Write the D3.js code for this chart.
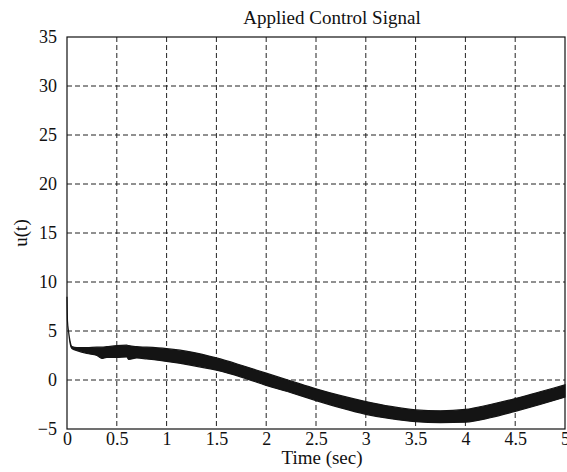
<!DOCTYPE html>
<html>
<head>
<meta charset="utf-8">
<title>Applied Control Signal</title>
<script src="https://cdn.jsdelivr.net/npm/d3@7"></script>
<style>
  body { margin: 0; background: #fff; }
  text { font-family: "Liberation Serif", "Times New Roman", serif; fill: #111; }
</style>
</head>
<body>
<svg id="chart" width="567" height="472"></svg>
<script>
// values (u(t) band: upper and lower envelope)
var times = [0, 0.005, 0.015, 0.03, 0.05, 0.1, 0.2, 0.3, 0.35, 0.4, 0.5, 0.6, 0.62, 0.7, 0.8, 1.0,
             1.25, 1.5, 1.75, 2.0, 2.25, 2.5, 2.75, 3.0, 3.25, 3.5, 3.75, 4.0, 4.25, 4.5, 4.75, 5.0];
var upper = [8.5, 6.0, 5.0, 4.0, 3.4, 3.3, 3.3, 3.35, 3.35, 3.4, 3.5, 3.55, 3.5, 3.4, 3.35, 3.2,
             2.85, 2.25, 1.5, 0.7, -0.1, -0.9, -1.6, -2.2, -2.7, -3.05, -3.15, -3.0, -2.5, -1.9, -1.2, -0.5];
var lower = [8.5, 6.0, 5.0, 3.8, 3.2, 3.0, 2.7, 2.5, 2.2, 2.3, 2.3, 2.35, 2.1, 2.25, 2.15, 1.9,
             1.5, 1.0, 0.3, -0.55, -1.3, -2.1, -2.85, -3.5, -3.95, -4.25, -4.35, -4.3, -3.85, -3.2, -2.5, -1.75];
var xTicks = [0, 0.5, 1, 1.5, 2, 2.5, 3, 3.5, 4, 4.5, 5];
var yTicks = [-5, 0, 5, 10, 15, 20, 25, 30, 35];

var plotLeft = 67, plotRight = 565, plotTop = 37, plotBottom = 429;
var svg = d3.select("#chart");

var x = d3.scaleLinear().domain([0, 5]).range([plotLeft, plotRight]);
var y = d3.scaleLinear().domain([-5, 35]).range([plotBottom, plotTop]);

// grid
svg.append("g").selectAll("line")
  .data(xTicks.slice(1, -1)).enter().append("line")
  .attr("x1", function(d){ return x(d); }).attr("x2", function(d){ return x(d); })
  .attr("y1", plotTop).attr("y2", plotBottom)
  .attr("stroke", "#222").attr("stroke-width", 1).attr("stroke-dasharray", "5,3");
svg.append("g").selectAll("line")
  .data(yTicks.slice(1, -1)).enter().append("line")
  .attr("y1", function(d){ return y(d); }).attr("y2", function(d){ return y(d); })
  .attr("x1", plotLeft).attr("x2", plotRight)
  .attr("stroke", "#222").attr("stroke-width", 1).attr("stroke-dasharray", "5,3");

// signal band
var pts = times.map(function(t, i){ return {t: t, hi: upper[i], lo: lower[i]}; });
var area = d3.area()
  .curve(d3.curveMonotoneX)
  .x(function(d){ return x(d.t); })
  .y0(function(d){ return y(d.lo); })
  .y1(function(d){ return y(d.hi); });
svg.append("path").datum(pts)
  .attr("d", area)
  .attr("fill", "#141414").attr("stroke", "#141414").attr("stroke-width", 1.2);

// axes
var xAxis = d3.axisBottom(x).tickValues(xTicks).tickSize(0).tickPadding(3)
  .tickFormat(function(d){ return d3.format("")(d); });
var yAxis = d3.axisLeft(y).tickValues(yTicks).tickSize(0).tickPadding(10);
var gx = svg.append("g").attr("transform", "translate(0," + plotBottom + ")").call(xAxis);
var gy = svg.append("g").attr("transform", "translate(" + plotLeft + ",0)").call(yAxis);
[gx, gy].forEach(function(g){
  g.attr("font-family", "Liberation Serif").attr("font-size", 18);
  g.select(".domain").remove();
  g.selectAll("text").attr("fill", "#111");
});

// frame
svg.append("rect").attr("x", plotLeft).attr("y", plotTop)
  .attr("width", plotRight - plotLeft).attr("height", plotBottom - plotTop)
  .attr("fill", "none").attr("stroke", "#111").attr("stroke-width", 1.2);

// labels
svg.append("text").attr("x", 332).attr("y", 24).attr("text-anchor", "middle")
  .style("font-size", "19px").text("Applied Control Signal");
svg.append("text").attr("x", 322).attr("y", 464).attr("text-anchor", "middle")
  .style("font-size", "19px").text("Time (sec)");
svg.append("text").attr("transform", "translate(27," + ((plotTop + plotBottom) / 2) + ") rotate(-90)")
  .attr("text-anchor", "middle").style("font-size", "19px").text("u(t)");
</script>
</body>
</html>
